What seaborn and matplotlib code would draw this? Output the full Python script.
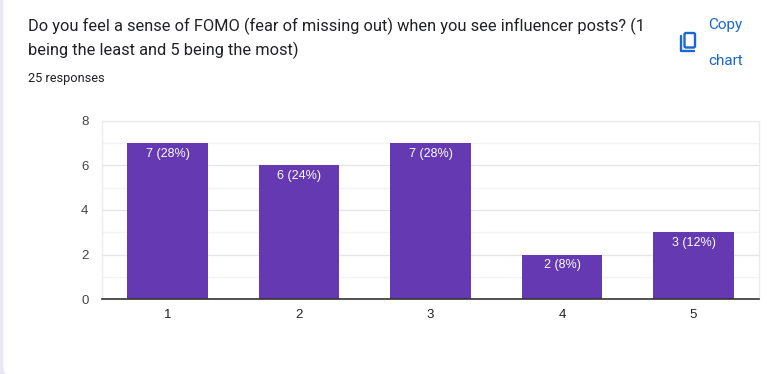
import pandas as pd
import seaborn as sns
import matplotlib.pyplot as plt
from matplotlib.patches import FancyBboxPatch
from matplotlib.lines import Line2D

W, H = 767, 374

ratings = ["1", "2", "3", "4", "5"]
counts = [7, 6, 7, 2, 3]
bar_labels = ["7 (28%)", "6 (24%)", "7 (28%)", "2 (8%)", "3 (12%)"]
major_ticks = [0, 2, 4, 6, 8]
minor_ticks = [1, 3, 5, 7]
title_lines = ["Do you feel a sense of FOMO (fear of missing out) when you see influencer posts? (1",
               "being the least and 5 being the most)"]

sns.set_theme(style="white")
plt.rcParams['font.family'] = ['Liberation Sans', 'DejaVu Sans']

df = pd.DataFrame({"rating": ratings, "count": counts})

fig = plt.figure(figsize=(W / 100, H / 100), dpi=100, facecolor="#e9e7f5")

# white card with rounded corner, lavender page shows at the left edge only
bg = fig.add_axes([0, 0, 1, 1], zorder=0)
bg.set_xlim(0, W)
bg.set_ylim(H, 0)
bg.axis("off")
bg.add_patch(FancyBboxPatch((3.5, -40), W + 60, H + 41, boxstyle="round,pad=0,rounding_size=7",
                            fc="white", ec="none"))
bg.add_patch(FancyBboxPatch((12, 300), W, H, fc="white", ec="none",
                            boxstyle="square,pad=0"))

ax = fig.add_axes([101.75 / W, 1 - 299.2 / H, 657.5 / W, 178.6 / H], zorder=1)
ax.patch.set_alpha(0)
sns.barplot(data=df, x="rating", y="count", color="#6539b2", saturation=1, width=0.615,
            linewidth=0, ax=ax, zorder=3)
ax.set_xlim(-0.5, 4.5)
ax.set_ylim(0, 8)
ax.set_xlabel("")
ax.set_ylabel("")
ax.set_yticks(major_ticks)
ax.set_yticks(minor_ticks, minor=True)
ax.grid(axis="y", which="major", color="#e6e6e6", lw=1, zorder=0)
ax.grid(axis="y", which="minor", color="#f3f3f3", lw=1, zorder=0)
ax.tick_params(axis="both", which="both", length=0)
ax.tick_params(axis="y", labelsize=9.5, labelcolor="#444444", pad=9.5)
ax.tick_params(axis="x", labelsize=9.5, labelcolor="#222222", pad=7)
for s in ["top", "right", "left"]:
    ax.spines[s].set_color("#ececec")
    ax.spines[s].set_linewidth(1)
ax.spines["bottom"].set_color("#333333")
ax.spines["bottom"].set_linewidth(1.2)
ax.spines["bottom"].set_zorder(5)

ax.bar_label(ax.containers[0], labels=bar_labels, label_type="edge", padding=-12,
             color="white", fontsize=9)

# header texts
bg.text(28, 26, title_lines[0], fontsize=11.75, family="Roboto", color="#202124", va="center")
bg.text(28, 50, title_lines[1], fontsize=11.75, family="Roboto", color="#202124", va="center")
bg.text(28, 78, "25 responses", fontsize=9.2, family="Roboto", color="#202124", va="center")
bg.text(725.5, 25, "Copy", fontsize=11, family="Roboto", color="#1a66d2", va="center", ha="center")
bg.text(725.5, 61, "chart", fontsize=11, family="Roboto", color="#1a66d2", va="center", ha="center")

# copy icon
bg.add_patch(FancyBboxPatch((684.5, 33), 10.5, 14.5, boxstyle="round,pad=0,rounding_size=1.5",
                            fc="none", ec="#1a66d2", lw=1.7))
bg.add_line(Line2D([680.5, 680.5, 693.5], [36, 51, 51], color="#1a66d2", lw=1.7))

fig.savefig("out.png", dpi=100, facecolor=fig.get_facecolor())
